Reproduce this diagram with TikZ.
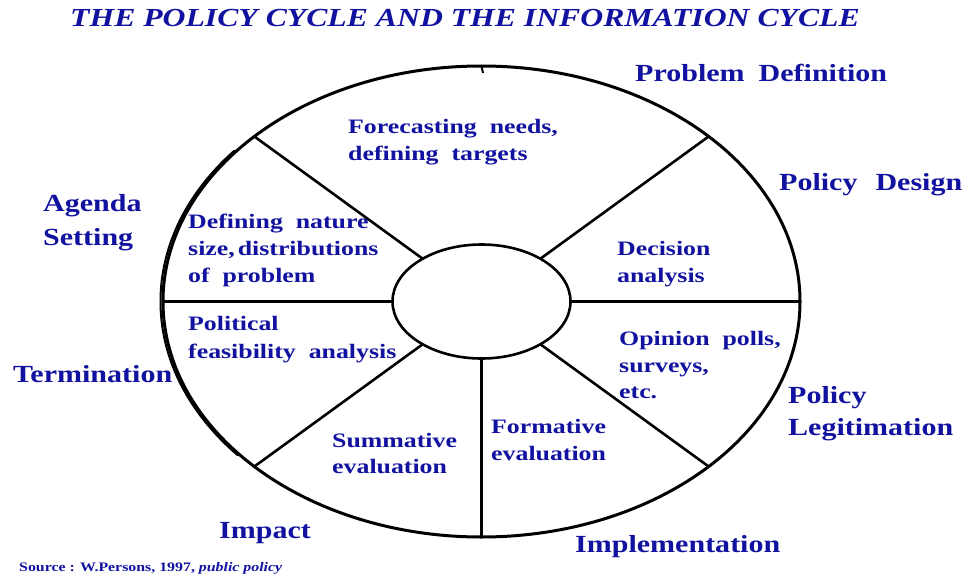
\documentclass[tikz,border=0pt]{standalone}
\usepackage{fontspec}
\setmainfont{Liberation Serif}
\newfontfamily\lblfont{Liberation Serif}[FakeStretch=1.22, WordSpace=2.1]
\newfontfamily\infont{Liberation Serif}[FakeStretch=1.26, WordSpace=2.0]
\newfontfamily\ttlfont{Liberation Serif}[FakeStretch=1.22]
\usetikzlibrary{shapes.geometric}
\definecolor{txtblue}{RGB}{18,18,160}
\begin{document}
\begin{tikzpicture}[x=1pt,y=-1pt,
  ring/.style={ellipse, draw=black, line width=3pt, inner sep=0pt, outer sep=0pt},
  spoke/.style={draw=black, line width=2.6pt},
  outerlbl/.style={inner sep=0pt, anchor=base west, text=txtblue, font=\lblfont\bfseries\fontsize{24.6}{28}\selectfont},
  innerlbl/.style={inner sep=0pt, anchor=base west, text=txtblue, font=\infont\bfseries\fontsize{20.5}{24}\selectfont},
  titlelbl/.style={inner sep=0pt, anchor=base west, text=txtblue, font=\ttlfont\bfseries\itshape\fontsize{26}{30}\selectfont},
  srclbl/.style={inner sep=0pt, anchor=base west, text=txtblue, font=\ttlfont\bfseries\fontsize{13}{15}\selectfont}]
\useasboundingbox (0,0) rectangle (963,575);
\fill[white] (0,0) rectangle (963,575);

% wheel
\coordinate (c) at (481.5,301.5);
\node[ring, minimum width=637pt, minimum height=471pt] (rim) at (c) {};
\node[ring, line width=2.6pt, minimum width=178pt, minimum height=114pt] (hub) at (c) {};
\begin{scope}
  \clip (140,150) rectangle (240,455);
  \draw[line width=2pt] (479,301.5) ellipse [x radius=318.5pt, y radius=235.5pt];
\end{scope}
\coordinate (tick) at (483,73);
\draw[spoke, line width=2pt] (rim.north) -- (tick);
\draw[spoke] (hub.west) -- (rim.west);
\draw[spoke] (hub.east) -- (rim.east);
\draw[spoke] (hub.south) -- (rim.south);
\draw[spoke] (hub.144) -- (rim.144);
\draw[spoke] (hub.36) -- (rim.36);
\draw[spoke] (hub.216) -- (rim.216);
\draw[spoke] (hub.324) -- (rim.324);

% title and source
\node[titlelbl] (title) at (70,27) {THE POLICY CYCLE AND THE INFORMATION CYCLE};
\node[srclbl] (src) at (19,571) {Source : W.Persons, 1997, \textit{public policy}};

% outer labels
\node[outerlbl] (pd) at (635,82) {Problem\hspace{14pt}Definition};
\node[outerlbl] (pdes) at (779,190) {Policy\hspace{18pt}Design};
\node[outerlbl] (ag1) at (43,211) {Agenda};
\node[outerlbl] (ag2) at (43,245) {Setting};
\node[outerlbl] (term) at (13,382) {Termination};
\node[outerlbl] (pl1) at (788,403) {Policy};
\node[outerlbl] (pl2) at (788,435) {Legitimation};
\node[outerlbl] (imp) at (219,538) {Impact};
\node[outerlbl] (impl) at (575,552) {Implementation};

% inner labels
\node[innerlbl] (fc1) at (348,134) {Forecasting needs,};
\node[innerlbl] (fc2) at (348,160) {defining targets};
\node[innerlbl] (dn1) at (188,228) {Defining nature};
\node[innerlbl] (dn2) at (188,255) {size,\hspace{3pt}distributions};
\node[innerlbl] (dn3) at (188,282) {of problem};
\node[innerlbl] (da1) at (617,255) {Decision};
\node[innerlbl] (da2) at (617,282) {analysis};
\node[innerlbl] (pf1) at (188,330) {Political};
\node[innerlbl] (pf2) at (188,358) {feasibility analysis};
\node[innerlbl] (op1) at (619,345) {Opinion polls,};
\node[innerlbl] (op2) at (619,372) {surveys,};
\node[innerlbl] (op3) at (619,398) {etc.};
\node[innerlbl] (se1) at (332,447) {Summative};
\node[innerlbl] (se2) at (332,473) {evaluation};
\node[innerlbl] (fe1) at (491,433) {Formative};
\node[innerlbl] (fe2) at (491,460) {evaluation};
\end{tikzpicture}
\end{document}
